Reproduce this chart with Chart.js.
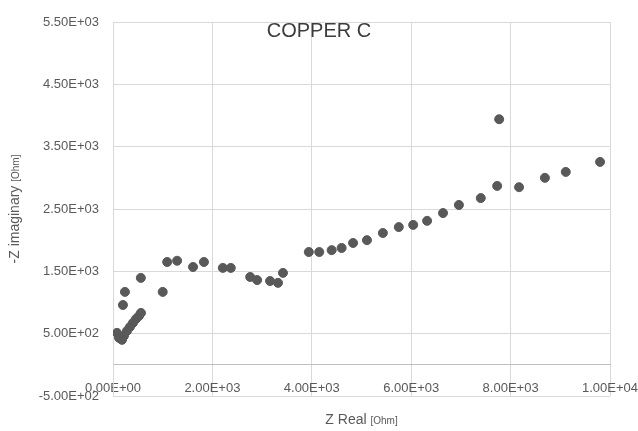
<!DOCTYPE html>
<html>
<head>
<meta charset="utf-8">
<script src="https://cdn.jsdelivr.net/npm/chart.js@4"></script>
<style>
  body { margin: 0; background: #fff; }
  #wrap { width: 638px; height: 431px; position: relative; }
</style>
</head>
<body>
<div id="wrap"><canvas id="chart"></canvas></div>
<script>
// values
var zReal = [80, 121, 181, 221, 282, 342, 402, 463, 523, 563,
             200, 240, 560, 1000, 1090, 1290, 1610, 1830, 2210, 2370,
             2760, 2900, 3160, 3320, 3420, 3940, 4150, 4400, 4600, 4830,
             5110, 5430, 5750, 6040, 6320, 6640, 6960, 7400, 7730, 8170,
             8690, 9110, 9800, 7770];
var zImag = [513, 433, 401, 465, 545, 609, 673, 737, 785, 833,
             960, 1170, 1395, 1170, 1650, 1670, 1570, 1650, 1555, 1555,
             1410, 1360, 1345, 1315, 1475, 1810, 1810, 1840, 1875, 1955,
             2000, 2115, 2210, 2245, 2310, 2435, 2565, 2675, 2870, 2850,
             3000, 3095, 3255, 3940];
var xTicks = [0, 2000, 4000, 6000, 8000, 10000];
var yTicks = [-500, 500, 1500, 2500, 3500, 4500, 5500];
var chartTitle = 'COPPER C';

var points = zReal.map(function(x, i) { return { x: x, y: zImag[i] }; });

function sci(v) {
    var parts = Number(v).toExponential(2).split('e');
    var n = parseInt(parts[1], 10);
    return parts[0] + 'E' + (n < 0 ? '-' : '+') + String(Math.abs(n)).padStart(2, '0');
}

// draws a label where the unit part is smaller
function mixedText(ctx, big, small, x, y) {
    ctx.font = '14px "Liberation Sans"';
    var w1 = ctx.measureText(big).width;
    ctx.font = '10px "Liberation Sans"';
    var w2 = ctx.measureText(small).width;
    var start = x - (w1 + w2) / 2;
    ctx.textAlign = 'left';
    ctx.textBaseline = 'alphabetic';
    ctx.font = '14px "Liberation Sans"';
    ctx.fillText(big, start, y);
    ctx.font = '10px "Liberation Sans"';
    ctx.fillText(small, start + w1, y);
}

var labelsPlugin = {
    id: 'labels',
    afterDraw: function(chart) {
        var ctx = chart.ctx;
        var area = chart.chartArea;
        ctx.save();
        ctx.fillStyle = '#3c3c3c';
        ctx.font = '20px "Liberation Sans"';
        ctx.textAlign = 'center';
        ctx.textBaseline = 'middle';
        ctx.fillText(chartTitle, 319, 31);

        ctx.fillStyle = '#595959';
        mixedText(ctx, 'Z Real ', '[Ohm]', (area.left + area.right) / 2, 424);

        ctx.translate(19, (area.top + area.bottom) / 2);
        ctx.rotate(-Math.PI / 2);
        mixedText(ctx, '-Z imaginary ', '[Ohm]', 0, 0);
        ctx.restore();
    }
};

var tickFont = { family: '"Liberation Sans"', size: 13 };

new Chart(document.getElementById('chart'), {
    type: 'scatter',
    data: {
        datasets: [{
            data: points,
            backgroundColor: '#595959',
            borderColor: '#595959',
            pointRadius: 4.5,
            borderWidth: 1
        }]
    },
    options: {
        responsive: true,
        maintainAspectRatio: false,
        animation: false,
        layout: { padding: { left: 0, right: 28, top: 22, bottom: 35 } },
        scales: {
            x: {
                type: 'linear',
                position: { y: 0 },
                min: 0,
                max: 10000,
                afterBuildTicks: function(scale) {
                    scale.ticks = xTicks.map(function(v) { return { value: v }; });
                },
                afterFit: function(scale) {
                    scale.height = 0;
                    scale.paddingLeft = 0;
                    scale.paddingRight = 0;
                },
                grid: { color: '#d9d9d9', drawTicks: false },
                border: { color: '#bfbfbf' },
                ticks: {
                    padding: 16,
                    maxRotation: 0,
                    autoSkip: false,
                    color: '#595959',
                    font: tickFont,
                    callback: function(v) { return sci(v); }
                }
            },
            y: {
                type: 'linear',
                position: 'left',
                min: -500,
                max: 5500,
                afterBuildTicks: function(scale) {
                    scale.ticks = yTicks.map(function(v) { return { value: v }; });
                },
                afterFit: function(scale) {
                    scale.width = 113;
                    scale.paddingTop = 0;
                    scale.paddingBottom = 0;
                },
                grid: { color: '#d9d9d9', drawTicks: false },
                border: { color: '#d9d9d9' },
                ticks: {
                    padding: 14,
                    autoSkip: false,
                    color: '#595959',
                    font: tickFont,
                    callback: function(v) { return sci(v); }
                }
            }
        },
        plugins: {
            legend: { display: false },
            tooltip: { enabled: false }
        }
    },
    plugins: [labelsPlugin]
});
</script>
</body>
</html>
